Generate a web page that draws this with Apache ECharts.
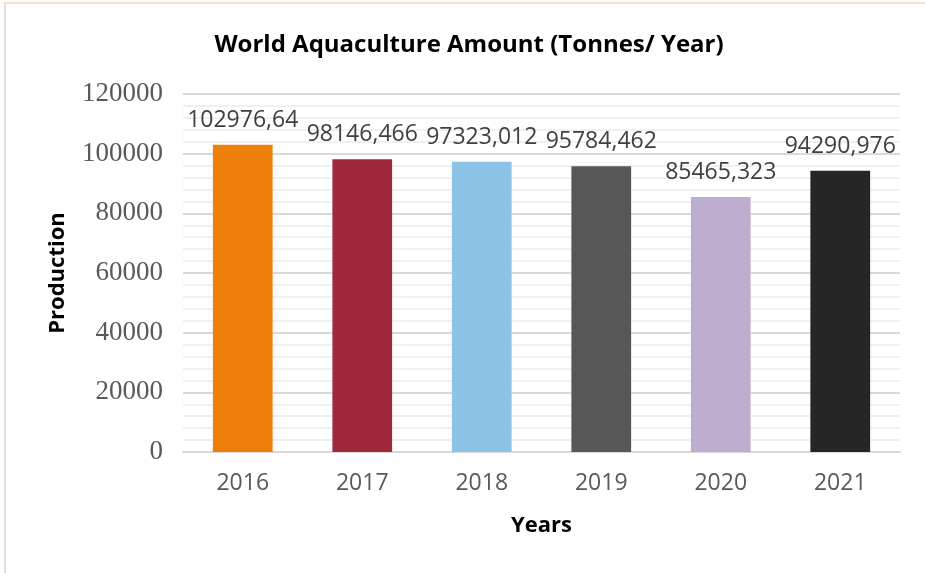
<!DOCTYPE html>
<html>
<head>
<meta charset="utf-8">
<script src="https://cdn.jsdelivr.net/npm/echarts@6/dist/echarts.min.js"></script>
<style>
  html, body { margin: 0; padding: 0; background: #fff; }
  #frame { position: absolute; left: 4px; top: 2px; width: 921px; height: 571px;
           border-top: 2px solid #f8dfcf; border-left: 2px solid #dedede; box-sizing: border-box; }
  #main { position: absolute; left: 0; top: 0; width: 925px; height: 573px; }
</style>
</head>
<body>
<div id="frame"></div>
<div id="main"></div>
<script>
var years = ['2016', '2017', '2018', '2019', '2020', '2021'];
var production = [102976.64, 98146.466, 97323.012, 95784.462, 85465.323, 94290.976];
var labels = ['102976,64', '98146,466', '97323,012', '95784,462', '85465,323', '94290,976'];
var barColors = ['#ef7f0b', '#a0283a', '#8cc3e6', '#575757', '#bdadce', '#262626'];

var myChart = echarts.init(document.getElementById('main'), null, { renderer: 'canvas' });

var option = {
    animation: false,
    title: {
        text: 'World Aquaculture Amount (Tonnes/ Year)',
        left: 464,
        top: 28,
        textAlign: 'center',
        textStyle: { fontFamily: 'Open Sans', fontWeight: 'bold', fontSize: 24, color: '#000' }
    },
    grid: { left: 183, right: 25, top: 94, bottom: 121 },
    xAxis: {
        type: 'category',
        data: years,
        name: 'Years',
        nameLocation: 'middle',
        nameGap: 63,
        nameTextStyle: { fontFamily: 'Open Sans', fontWeight: 'bold', fontSize: 22, color: '#000' },
        axisLine: { lineStyle: { color: '#d9d9d9', width: 2 } },
        axisTick: { show: false },
        axisLabel: { fontFamily: 'Open Sans', fontSize: 23, color: '#595959', margin: 20 }
    },
    yAxis: {
        type: 'value',
        min: 0,
        max: 120000,
        interval: 20000,
        name: 'Production',
        nameLocation: 'middle',
        nameGap: 114,
        nameTextStyle: { fontFamily: 'Open Sans', fontWeight: 'bold', fontSize: 22, color: '#000' },
        axisLine: { show: false },
        axisTick: { show: false },
        axisLabel: {
            fontFamily: 'Liberation Serif', fontSize: 27, color: '#595959', margin: 20,
            formatter: function (v) { return String(v); }
        },
        splitLine: { lineStyle: { color: '#d9d9d9', width: 2 } },
        minorTick: { show: false, splitNumber: 5 },
        minorSplitLine: { show: true, lineStyle: { color: '#f0f0f0', width: 2 } }
    },
    series: [{
        type: 'bar',
        barWidth: '50%',
        data: production.map(function (v, i) {
            return { value: v, itemStyle: { color: barColors[i] } };
        }),
        label: {
            show: true,
            position: 'top',
            distance: 13,
            fontFamily: 'Open Sans',
            fontSize: 23,
            color: '#404040',
            formatter: function (p) { return labels[p.dataIndex]; }
        }
    }]
};
myChart.setOption(option);
</script>
</body>
</html>
